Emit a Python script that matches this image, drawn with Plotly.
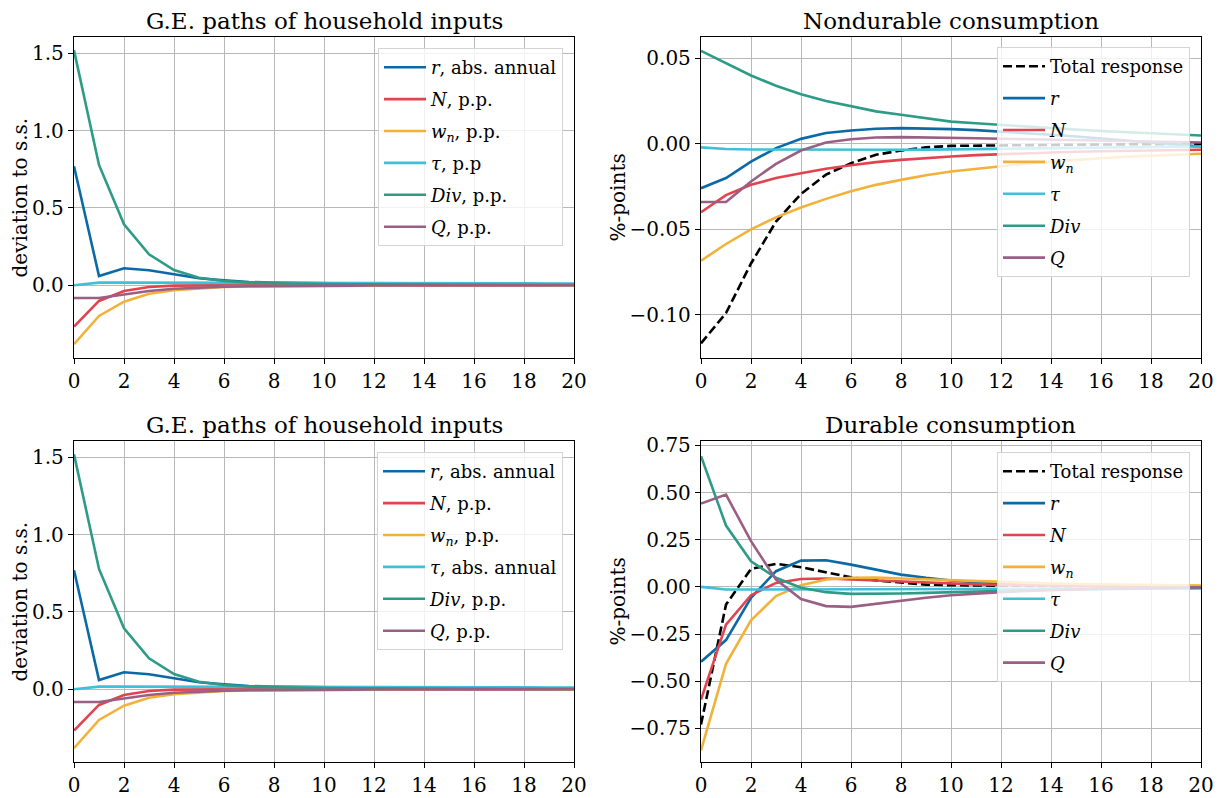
import plotly.graph_objects as go

t = list(range(21))

# ---- G.E. paths of household inputs (same in both left panels) ----
ge_r   = [0.77, 0.06, 0.11, 0.097, 0.071, 0.045, 0.032, 0.021, 0.017, 0.014, 0.012, 0.011, 0.010, 0.009, 0.008, 0.008, 0.007, 0.007, 0.006, 0.006, 0.006]
ge_N   = [-0.267, -0.101, -0.037, -0.011, -0.002, 0.0, 0.002, 0.002, 0.002, 0.002, 0.002, 0.001, 0.001, 0.001, 0.001, 0.001, 0.001, 0.0, 0.0, 0.0, 0.0]
ge_wn  = [-0.381, -0.198, -0.106, -0.054, -0.032, -0.020, -0.011, -0.007, -0.005, -0.004, -0.003, -0.003, -0.002, -0.002, -0.002, -0.001, -0.001, -0.001, -0.001, -0.001, -0.001]
ge_tau = [0.0, 0.017, 0.017, 0.017, 0.017, 0.017, 0.017, 0.016, 0.016, 0.016, 0.015, 0.015, 0.015, 0.014, 0.014, 0.014, 0.013, 0.013, 0.013, 0.012, 0.012]
ge_div = [1.519, 0.778, 0.394, 0.200, 0.099, 0.049, 0.028, 0.017, 0.013, 0.010, 0.008, 0.007, 0.006, 0.005, 0.005, 0.004, 0.004, 0.003, 0.003, 0.003, 0.003]
ge_Q   = [-0.082, -0.082, -0.060, -0.037, -0.022, -0.015, -0.009, -0.006, -0.004, -0.003, -0.002, -0.002, -0.001, -0.001, -0.001, -0.001, 0.0, 0.0, 0.0, 0.0, 0.0]

# ---- Nondurable consumption decomposition ----
nd_total = [-0.1167, -0.099, -0.070, -0.0455, -0.0293, -0.018, -0.0113, -0.0064, -0.0039, -0.0021, -0.0012, -0.0010, -0.0008, -0.0007, -0.0006, -0.0005, -0.0004, -0.0003, -0.0002, -0.0001, 0.0]
nd_r     = [-0.026, -0.020, -0.0104, -0.0025, 0.0029, 0.0063, 0.0078, 0.0088, 0.0092, 0.0090, 0.0086, 0.0080, 0.0072, 0.0063, 0.0053, 0.0043, 0.0032, 0.0021, 0.0010, -0.0003, -0.0016]
nd_N     = [-0.040, -0.030, -0.024, -0.020, -0.0172, -0.0146, -0.0125, -0.0107, -0.0094, -0.0082, -0.0074, -0.0066, -0.0060, -0.0055, -0.0050, -0.0046, -0.0043, -0.0040, -0.0038, -0.0036, -0.0035]
nd_wn    = [-0.0684, -0.0586, -0.050, -0.043, -0.0373, -0.0322, -0.0277, -0.024, -0.0211, -0.0184, -0.0162, -0.0146, -0.0130, -0.0116, -0.0104, -0.0093, -0.0084, -0.0076, -0.0069, -0.0063, -0.0058]
nd_tau   = [-0.0021, -0.0030, -0.0033, -0.0034, -0.0035, -0.0035, -0.0035, -0.0035, -0.0035, -0.0034, -0.0032, -0.0030, -0.0029, -0.0027, -0.0025, -0.0023, -0.0021, -0.0020, -0.0018, -0.0017, -0.0016]
nd_div   = [0.0544, 0.047, 0.040, 0.034, 0.029, 0.025, 0.022, 0.019, 0.017, 0.015, 0.013, 0.012, 0.011, 0.010, 0.009, 0.0083, 0.0075, 0.0068, 0.0061, 0.0055, 0.0049]
nd_Q     = [-0.034, -0.034, -0.022, -0.0117, -0.0039, 0.0008, 0.0027, 0.0037, 0.0039, 0.0038, 0.0035, 0.0033, 0.0030, 0.0027, 0.0024, 0.0021, 0.0018, 0.0015, 0.0012, 0.0010, 0.0008]

# ---- Durable consumption decomposition ----
d_total = [-0.729, -0.094, 0.095, 0.122, 0.104, 0.078, 0.051, 0.034, 0.021, 0.012, 0.009, 0.007, 0.006, 0.005, 0.004, 0.003, 0.003, 0.002, 0.002, 0.001, 0.001]
d_r     = [-0.397, -0.282, -0.058, 0.083, 0.139, 0.141, 0.118, 0.092, 0.065, 0.048, 0.034, 0.025, 0.019, 0.014, 0.010, 0.008, 0.006, 0.004, 0.003, 0.002, 0.001]
d_N     = [-0.597, -0.200, -0.044, 0.021, 0.042, 0.044, 0.039, 0.034, 0.026, 0.021, 0.016, 0.013, 0.010, 0.008, 0.006, 0.005, 0.004, 0.003, 0.002, 0.002, 0.001]
d_wn    = [-0.867, -0.408, -0.177, -0.049, 0.009, 0.039, 0.048, 0.049, 0.044, 0.039, 0.034, 0.029, 0.025, 0.021, 0.018, 0.015, 0.013, 0.011, 0.009, 0.008, 0.007]
d_tau   = [0.0, -0.014, -0.014, -0.014, -0.013, -0.013, -0.013, -0.012, -0.012, -0.012, -0.011, -0.011, -0.010, -0.010, -0.009, -0.009, -0.008, -0.008, -0.008, -0.007, -0.007]
d_div   = [0.692, 0.325, 0.136, 0.048, -0.005, -0.028, -0.037, -0.037, -0.035, -0.032, -0.028, -0.024, -0.021, -0.018, -0.015, -0.013, -0.011, -0.009, -0.008, -0.007, -0.006]
d_Q     = [0.441, 0.489, 0.242, 0.039, -0.064, -0.102, -0.106, -0.090, -0.072, -0.058, -0.044, -0.035, -0.028, -0.022, -0.017, -0.013, -0.010, -0.008, -0.006, -0.004, -0.002]

titles = ["G.E. paths of household inputs", "Nondurable consumption",
          "G.E. paths of household inputs", "Durable consumption"]
xticks = list(range(0, 21, 2))

C_R, C_N, C_WN, C_TAU, C_DIV, C_Q = "#0b6aa6", "#e2444f", "#f2b23a", "#3fbfd8", "#2e9b86", "#9b5e85"
FONT = "DejaVu Serif"
LW = 2.6

fig = go.Figure()

def add(x, y, name, color, ax, leg, dash=None):
    n = len(fig.data)
    fig.add_trace(go.Scatter(
        x=x, y=y, name=name, mode="lines",
        line=dict(color=color, width=LW, dash=dash),
        xaxis="x" + ("" if ax == 1 else str(ax)),
        yaxis="y" + ("" if ax == 1 else str(ax)),
        legend=leg, legendgroup="g%d" % n, showlegend=True))

ge_labels_top = ["<i>r</i>, abs. annual", "<i>N</i>, p.p.", "<i>w<sub>n</sub></i>, p.p.",
                 "<i>τ</i>, p.p", "<i>Div</i>, p.p.", "<i>Q</i>, p.p."]
ge_labels_bot = ["<i>r</i>, abs. annual", "<i>N</i>, p.p.", "<i>w<sub>n</sub></i>, p.p.",
                 "<i>τ</i>, abs. annual", "<i>Div</i>, p.p.", "<i>Q</i>, p.p."]
ge_series = [ge_r, ge_N, ge_wn, ge_tau, ge_div, ge_Q]
cols = [C_R, C_N, C_WN, C_TAU, C_DIV, C_Q]
for s, lab, c in zip(ge_series, ge_labels_top, cols):
    add(t, s, lab, c, 1, "legend")
for s, lab, c in zip(ge_series, ge_labels_bot, cols):
    add(t, s, lab, c, 3, "legend3")

dec_labels = ["<i>r</i>", "<i>N</i>", "<i>w<sub>n</sub></i>", "<i>τ</i>", "<i>Div</i>", "<i>Q</i>"]
add(t, nd_total, "Total response", "black", 2, "legend2", dash="9px,4px")
for s, lab, c in zip([nd_r, nd_N, nd_wn, nd_tau, nd_div, nd_Q], dec_labels, cols):
    add(t, s, lab, c, 2, "legend2")
add(t, d_total, "Total response", "black", 4, "legend4", dash="9px,4px")
for s, lab, c in zip([d_r, d_N, d_wn, d_tau, d_div, d_Q], dec_labels, cols):
    add(t, s, lab, c, 4, "legend4")

W, H = 1224, 798
xl = [74 / W, 574 / W]
xr = [701 / W, 1201 / W]
yt = [1 - 358 / H, 1 - 37 / H]
yb = [1 - 762 / H, 1 - 441 / H]

common = dict(showgrid=True, gridcolor="#b8b8b8", gridwidth=1, zeroline=False,
              showline=True, mirror=True, linecolor="black", linewidth=1.3,
              ticks="outside", ticklen=5, tickcolor="black", tickwidth=1.2,
              automargin=False,
              tickfont=dict(size=20, family=FONT, color="black"))

def xax(dom, anchor):
    return dict(domain=dom, anchor=anchor, range=[0, 20], tickvals=xticks, **common)

def yax(dom, anchor, rng, tv, fmt):
    return dict(domain=dom, anchor=anchor, range=rng, tickvals=tv, tickformat=fmt, **common)

def leg(xr_px, yt_px):
    return dict(x=xr_px / W, xanchor="right", y=1 - yt_px / H, yanchor="top",
                bgcolor="rgba(255,255,255,0.8)", bordercolor="#d4d4d4", borderwidth=1,
                font=dict(size=18, family=FONT, color="black"), tracegroupgap=5.5,
                itemwidth=42)

fig.update_layout(
    width=W, height=H, margin=dict(l=0, r=0, t=0, b=0, autoexpand=False),
    paper_bgcolor="white", plot_bgcolor="white",
    font=dict(family=FONT, color="black"),
    xaxis=xax(xl, "y"), yaxis=yax(yt, "x", [-0.47, 1.605], [0, 0.5, 1.0, 1.5], ".1f"),
    xaxis2=xax(xr, "y2"), yaxis2=yax(yt, "x2", [-0.1253, 0.0625], [-0.10, -0.05, 0.0, 0.05], ".2f"),
    xaxis3=xax(xl, "y3"), yaxis3=yax(yb, "x3", [-0.47, 1.605], [0, 0.5, 1.0, 1.5], ".1f"),
    xaxis4=xax(xr, "y4"), yaxis4=yax(yb, "x4", [-0.928, 0.773], [-0.75, -0.5, -0.25, 0, 0.25, 0.5, 0.75], ".2f"),
    legend=leg(563, 48), legend2=leg(1190, 47), legend3=leg(563, 452), legend4=leg(1190, 452),
    showlegend=True,
)

ann = []
centers = [((xl[0] + xl[1]) / 2, yt[1]), ((xr[0] + xr[1]) / 2, yt[1]),
           ((xl[0] + xl[1]) / 2, yb[1]), ((xr[0] + xr[1]) / 2, yb[1])]
for (cx, ty), txt in zip(centers, titles):
    ann.append(dict(text=txt, x=cx, y=ty, xref="paper", yref="paper", xanchor="center",
                    yanchor="bottom", yshift=1, showarrow=False,
                    font=dict(size=23, family=FONT, color="black")))
for (xc, yc, txt) in [(19, (37 + 358) / 2, "deviation to s.s."), (617, (37 + 358) / 2, "%-points"),
                      (19, (441 + 762) / 2, "deviation to s.s."), (617, (441 + 762) / 2, "%-points")]:
    ann.append(dict(text=txt, x=xc / W, y=1 - yc / H, xref="paper", yref="paper",
                    xanchor="center", yanchor="middle", textangle=-90, showarrow=False,
                    font=dict(size=20, family=FONT, color="black")))
fig.update_layout(annotations=ann)

fig.write_html("out.html", config={"displayModeBar": False},
               post_script="document.body.style.margin='0';document.body.style.overflow='hidden';")
